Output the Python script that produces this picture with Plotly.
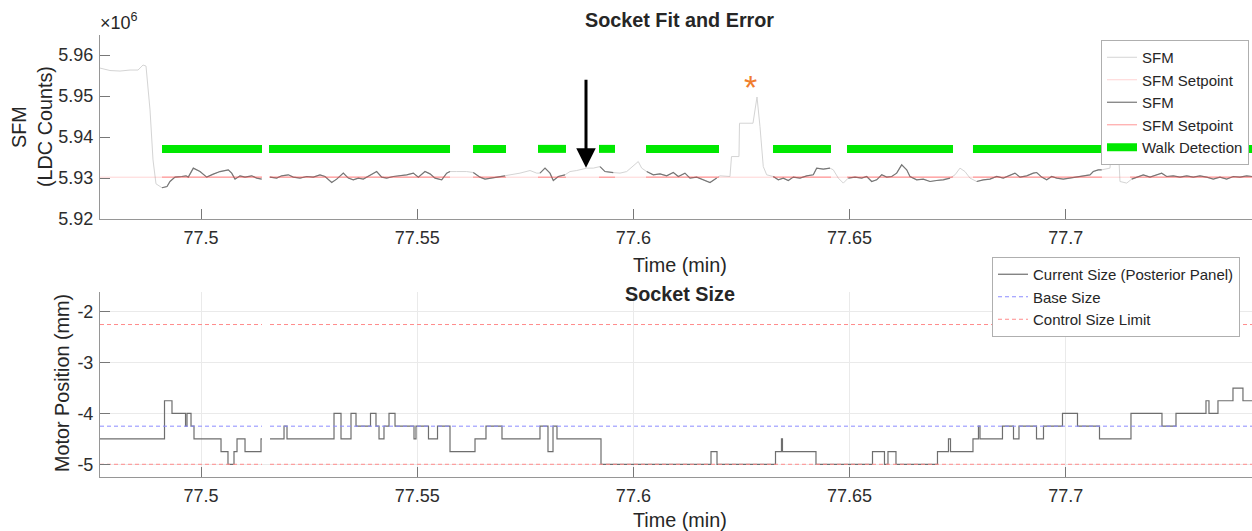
import plotly.graph_objects as go

# ---------------- data ----------------
# Socket Fit Monitor (SFM), x10^6 LDC counts; None marks the data gap
sfm_t = [77.47664, 77.47895, 77.48127, 77.48358, 77.48543, 77.48659, 77.48728, 77.48821, 77.48890, 77.48959,
         77.49098, 77.49214, 77.49283, 77.49399, 77.49554, 77.49653, 77.49706, 77.49822, 77.49977, 77.50132,
         77.50284, 77.50439, 77.50631, 77.50710, 77.50786, 77.50902, 77.51018, 77.51173, 77.51288, 77.51404,
         None,
         77.51596, 77.51751, 77.51866, 77.52019, 77.52135, 77.52290, 77.52445, 77.52597, 77.52752, 77.52868,
         77.53023, 77.53138, 77.53291, 77.53407, 77.53522, 77.53638, 77.53754, 77.53869, 77.54063, 77.54179,
         77.54295, 77.54447, 77.54602, 77.54757, 77.54910, 77.55026, 77.55180, 77.55296, 77.55412, 77.55567,
         77.55682, 77.55759, 77.55914, 77.56145, 77.56297, 77.56452, 77.56568, 77.56723, 77.56876, 77.57031,
         77.57146, 77.57378, 77.57609, 77.57764, 77.57840, 77.57956, 77.58071, 77.58148, 77.58263, 77.58418,
         77.58534, 77.58689, 77.58920, 77.59073, 77.59228, 77.59343, 77.59535, 77.59690, 77.59845, 77.59998,
         77.60113, 77.60192, 77.60308, 77.60460, 77.60615, 77.60770, 77.60923, 77.61039, 77.61193, 77.61309,
         77.61464, 77.61617, 77.61772, 77.61927, 77.62003, 77.62234, 77.62269, 77.62442, 77.62454, 77.62766,
         77.62859, 77.62928, 77.63004, 77.63083, 77.63236, 77.63351, 77.63467, 77.63583, 77.63698, 77.63853,
         77.64008, 77.64161, 77.64239, 77.64392, 77.64547, 77.64623, 77.64739, 77.64855, 77.64970, 77.65125,
         77.65280, 77.65396, 77.65511, 77.65627, 77.65743, 77.65858, 77.65974, 77.66089, 77.66205, 77.66321,
         77.66397, 77.66552, 77.66705, 77.66860, 77.67015, 77.67167, 77.67322, 77.67438, 77.67553, 77.67669,
         77.67785, 77.67940, 77.68092, 77.68247, 77.68402, 77.68555, 77.68710, 77.68825, 77.68941, 77.69096,
         77.69249, 77.69327, 77.69443, 77.69559, 77.69674, 77.69790, 77.69942, 77.70097, 77.70252, 77.70405,
         77.70560, 77.70636, 77.70752, 77.70831, 77.71022, 77.71057, 77.71219, 77.71254, 77.71409, 77.71524,
         77.71677, 77.71793, 77.71948, 77.72103, 77.72218, 77.72334, 77.72486, 77.72641, 77.72796, 77.72949,
         77.73104, 77.73259, 77.73412, 77.73566, 77.73721, 77.73874, 77.74029, 77.74184, 77.74307]
sfm_v = [5.95683, 5.95623, 5.95610, 5.95635, 5.95635, 5.95757, 5.95732, 5.94661, 5.93443, 5.92859,
         5.92762, 5.92793, 5.92915, 5.93022, 5.93037, 5.93054, 5.93022, 5.93241, 5.93158, 5.93022,
         5.93095, 5.93158, 5.93200, 5.93119, 5.92973, 5.93054, 5.93022, 5.93054, 5.92998, 5.92973,
         None,
         5.93022, 5.92998, 5.93054, 5.93078, 5.93022, 5.92998, 5.93037, 5.93022, 5.93078, 5.93037,
         5.92891, 5.92973, 5.93119, 5.92998, 5.92956, 5.92998, 5.92973, 5.93037, 5.93158, 5.93022,
         5.92998, 5.93037, 5.93054, 5.93078, 5.93119, 5.93022, 5.93158, 5.93102, 5.92998, 5.92956,
         5.93119, 5.93158, 5.93158, 5.93158, 5.93134, 5.93022, 5.92973, 5.92998, 5.93037, 5.93054,
         5.93078, 5.93119, 5.93183, 5.93119, 5.93119, 5.93241, 5.93119, 5.92939, 5.93037, 5.93078,
         5.93158, 5.93183, 5.93241, 5.93241, 5.93280, 5.93158, 5.93134, 5.93119, 5.93158, 5.93297,
         5.93402, 5.93241, 5.93158, 5.93078, 5.93102, 5.93054, 5.93134, 5.93037, 5.93119, 5.92998,
         5.93022, 5.92956, 5.92891, 5.92998, 5.93054, 5.93037, 5.93524, 5.93524, 5.94337, 5.94337,
         5.94977, 5.94254, 5.93280, 5.93078, 5.93037, 5.92956, 5.92998, 5.92939, 5.93022, 5.92998,
         5.93054, 5.93078, 5.93241, 5.93217, 5.93241, 5.93200, 5.92998, 5.92876, 5.92998, 5.93022,
         5.92998, 5.93037, 5.92915, 5.92956, 5.93078, 5.93022, 5.93037, 5.93119, 5.93322, 5.93200,
         5.93037, 5.92956, 5.92973, 5.92915, 5.92939, 5.92956, 5.92998, 5.93078, 5.93241, 5.93158,
         5.92998, 5.92915, 5.92956, 5.92973, 5.93037, 5.92998, 5.93078, 5.93119, 5.93022, 5.93054,
         5.93119, 5.93134, 5.93022, 5.92956, 5.93037, 5.92998, 5.92973, 5.92998, 5.93037, 5.93054,
         5.93078, 5.93158, 5.93200, 5.93200, 5.93241, 5.93687, 5.93687, 5.92915, 5.92876, 5.92973,
         5.93022, 5.93078, 5.93022, 5.93078, 5.93119, 5.93037, 5.93054, 5.93022, 5.93054, 5.93022,
         5.93054, 5.93022, 5.92973, 5.93022, 5.92973, 5.93037, 5.93022, 5.93054, 5.93037]

sfm_setpoint = 5.9302
walk_level = 5.93711
walk_start = [77.49098, 77.51573, 77.56291, 77.57794, 77.59205, 77.60292, 77.63229, 77.64940, 77.67854, 77.71485]
walk_end = [77.51411, 77.55759, 77.57054, 77.58441, 77.59575, 77.61980, 77.64570, 77.67392, 77.70837, 77.74307]
gap_start, gap_end = 77.51410, 77.51596
t_min, t_max = 77.47664, 77.74307

# Socket size (motor position, mm), step changes
motor_t = [77.47664, 77.49156, 77.49329, 77.49642, 77.49676, 77.49769, 77.49838, 77.50463, 77.50624, 77.50763,
           77.50833, 77.51018, 77.51388, 77.51410, None, 77.51596, 77.51920, 77.51989, 77.53076, 77.53238,
           77.53469, 77.53585, 77.53920, 77.54047, 77.54117, 77.54232, 77.54348, 77.54487, 77.54926, 77.54972,
           77.55261, 77.55470, 77.55759, 77.56337, 77.56591, 77.56961, 77.57840, 77.58025, 77.58141, 77.58233,
           77.59251, 77.61795, 77.61934, 77.63287, 77.63425, 77.63448, 77.64223, 77.65530, 77.65807, 77.65888,
           77.66073, 77.67033, 77.67287, 77.67334, 77.67854, 77.67981, 77.68016, 77.68536, 77.68791, 77.68918,
           77.69323, 77.69485, 77.69924, 77.70271, 77.70780, 77.71508, 77.72225, 77.72549, 77.73243, 77.73312,
           77.73520, 77.73867, 77.74098, 77.74307]
motor_v = [-4.5, -3.75, -4.0, -4.25, -4.0, -4.25, -4.5, -4.75, -5.0, -4.75,
           -4.5, -4.75, -4.5, -4.5, None, -4.5, -4.25, -4.5, -4.0, -4.5,
           -4.0, -4.25, -4.0, -4.25, -4.5, -4.25, -4.0, -4.25, -4.5, -4.25,
           -4.5, -4.25, -4.75, -4.5, -4.25, -4.5, -4.25, -4.75, -4.25, -4.5,
           -5.0, -4.75, -5.0, -4.75, -4.5, -4.75, -5.0, -4.75, -5.0, -4.75,
           -5.0, -4.75, -4.5, -4.75, -4.5, -4.25, -4.5, -4.25, -4.5, -4.25,
           -4.5, -4.25, -4.0, -4.25, -4.5, -4.0, -4.25, -4.0, -3.75, -4.0,
           -3.75, -3.5, -3.75, -3.75]
base_size = -4.25
limit_high = -2.25
limit_low = -5.0

arrow_t, arrow_v = 77.58904, 5.93249
star_t = 77.62697

x_ticks = [77.5, 77.55, 77.6, 77.65, 77.7]
x_tick_text = ["77.5", "77.55", "77.6", "77.65", "77.7"]
y1_ticks = [5.92, 5.93, 5.94, 5.95, 5.96]
y1_tick_text = ["5.92", "5.93", "5.94", "5.95", "5.96"]
y2_ticks = [-5, -4, -3, -2]
y2_tick_text = ["-5", "-4", "-3", "-2"]

# ---------------- derived ----------------
def in_walk(t):
    return any(s <= t <= e for s, e in zip(walk_start, walk_end))

n = min(len(sfm_t), len(sfm_v))
sfm_dark = [(v if (t is not None and in_walk(t)) else None) for t, v in zip(sfm_t[:n], sfm_v[:n])]

walk_x, walk_y = [], []
for s, e in zip(walk_start, walk_end):
    walk_x += [s, e, None]
    walk_y += [walk_level, walk_level, None]

sp_full_x = [t_min, gap_start, None, gap_end, t_max]
sp_full_y = [sfm_setpoint, sfm_setpoint, None, sfm_setpoint, sfm_setpoint]
sp_walk_y = [(sfm_setpoint if v is not None else None) for v in walk_y]

const_x = [t_min, gap_start, None, gap_end, t_max]

FONT = "Liberation Sans, Arial, Helvetica, sans-serif"
W = 1252
REF_H = 531          # layout is designed against this height
H = 541              # page height (photo is squeezed to 531 px tall)
K = H / REF_H

def px(x):
    return x / W

def py(y):
    return 1 - y / REF_H

fig = go.Figure()

# top panel
fig.add_trace(go.Scatter(x=sfm_t[:n], y=sfm_v[:n], mode="lines", name="SFM",
                         line=dict(color="rgb(212,212,212)", width=1), legend="legend",
                         xaxis="x", yaxis="y"))
fig.add_trace(go.Scatter(x=sp_full_x, y=sp_full_y, mode="lines", name="SFM Setpoint",
                         line=dict(color="rgba(255,60,60,0.22)", width=1), legend="legend",
                         xaxis="x", yaxis="y"))
fig.add_trace(go.Scatter(x=sfm_t[:n], y=sfm_dark, mode="lines", name="SFM",
                         line=dict(color="rgb(118,118,118)", width=1.2), legend="legend",
                         xaxis="x", yaxis="y"))
fig.add_trace(go.Scatter(x=walk_x, y=sp_walk_y, mode="lines", name="SFM Setpoint",
                         line=dict(color="rgba(255,60,60,0.45)", width=1.2), legend="legend",
                         xaxis="x", yaxis="y"))
fig.add_trace(go.Scatter(x=walk_x, y=walk_y, mode="lines", name="Walk Detection",
                         line=dict(color="rgb(0,232,0)", width=8), legend="legend",
                         xaxis="x", yaxis="y"))

# bottom panel
m = min(len(motor_t), len(motor_v))
fig.add_trace(go.Scatter(x=motor_t[:m], y=motor_v[:m], mode="lines", name="Current Size (Posterior Panel)",
                         line=dict(color="rgb(110,110,110)", width=1.2, shape="hv"), legend="legend2",
                         xaxis="x2", yaxis="y2"))
fig.add_trace(go.Scatter(x=const_x, y=[base_size, base_size, None, base_size, base_size], mode="lines",
                         name="Base Size", line=dict(color="rgb(140,140,255)", width=1, dash="4px,3px"),
                         legend="legend2", xaxis="x2", yaxis="y2"))
lim_x = const_x + [None] + const_x
lim_y = [limit_high, limit_high, None, limit_high, limit_high, None,
         limit_low, limit_low, None, limit_low, limit_low]
fig.add_trace(go.Scatter(x=lim_x, y=lim_y, mode="lines", name="Control Size Limit",
                         line=dict(color="rgb(255,140,140)", width=1, dash="4px,3px"),
                         legend="legend2", xaxis="x2", yaxis="y2"))

axis_common = dict(showline=True, linecolor="rgb(150,150,150)", linewidth=1,
                   ticks="inside", ticklen=10, tickcolor="rgb(120,120,120)", tickwidth=1,
                   zeroline=False, mirror=False, ticklabelstandoff=2,
                   tickfont=dict(family=FONT, size=18, color="rgb(45,45,45)"))

fig.update_layout(
    width=W, height=H,
    margin=dict(l=0, r=0, t=0, b=0),
    paper_bgcolor="white", plot_bgcolor="white",
    font=dict(family=FONT, size=18, color="rgb(38,38,38)"),
    showlegend=True,
    xaxis=dict(domain=[px(100), 1], range=[t_min, t_max], anchor="y",
               tickvals=x_ticks, ticktext=x_tick_text, showgrid=False, **axis_common),
    yaxis=dict(domain=[py(219), py(35)], range=[5.92, 5.9649], anchor="x",
               tickvals=y1_ticks, ticktext=y1_tick_text, showgrid=False, **axis_common),
    xaxis2=dict(domain=[px(100), 1], range=[t_min, t_max], anchor="y2",
                tickvals=x_ticks, ticktext=x_tick_text, showgrid=True,
                gridcolor="rgb(234,234,234)", **axis_common),
    yaxis2=dict(domain=[py(477), py(292)], range=[-5.25, -1.61], anchor="x2",
                tickvals=y2_ticks, ticktext=y2_tick_text, showgrid=True,
                gridcolor="rgb(234,234,234)", **axis_common),
    legend=dict(x=px(1101), y=py(40), xanchor="left", yanchor="top",
                bgcolor="white", bordercolor="rgb(175,175,175)", borderwidth=1,
                font=dict(family=FONT, size=15, color="rgb(38,38,38)"),
                tracegroupgap=0, itemwidth=30),
    legend2=dict(x=px(992), y=py(257), xanchor="left", yanchor="top",
                 bgcolor="white", bordercolor="rgb(175,175,175)", borderwidth=1,
                 font=dict(family=FONT, size=15, color="rgb(38,38,38)"),
                 tracegroupgap=0, itemwidth=30),
)

ann = []
def text_ann(txt, x, y, size, angle=0, xanchor="center", color="rgb(38,38,38)"):
    ann.append(dict(text=txt, x=x, y=y, xref="paper", yref="paper", showarrow=False,
                    xanchor=xanchor, yanchor="middle", textangle=angle,
                    font=dict(family=FONT, size=size, color=color)))

text_ann("<b>Socket Fit and Error</b>", px(680), py(20), 19.8)
text_ann("<b>Socket Size</b>", px(680), py(294), 19.8)
text_ann("×10<sup>6</sup>", px(98), py(22), 18, xanchor="left")
text_ann("SFM", px(19), py(127), 19.8, angle=-90)
text_ann("(LDC Counts)", px(45), py(127), 19.8, angle=-90)
text_ann("Motor Position (mm)", px(62), py(383), 19.8, angle=-90)
text_ann("Time (min)", px(680), py(265), 19.8)
text_ann("Time (min)", px(680), py(520), 19.8)

# orange asterisk marking the spike
ann.append(dict(text="*", x=star_t, y=py(87), xref="x", yref="paper", showarrow=False,
                xanchor="center", yanchor="middle",
                font=dict(family=FONT, size=34, color="rgb(240,125,45)")))
# black arrow
ann.append(dict(text="", x=arrow_t, y=arrow_v, xref="x", yref="y", showarrow=True,
                ax=0, ay=-88 * K, arrowhead=2, arrowsize=1.3, arrowwidth=3, arrowcolor="black"))

fig.update_layout(annotations=ann)

fig.write_html("out.html", config={"displayModeBar": False},
               post_script="document.body.style.margin='0px';document.body.style.padding='0px';")
